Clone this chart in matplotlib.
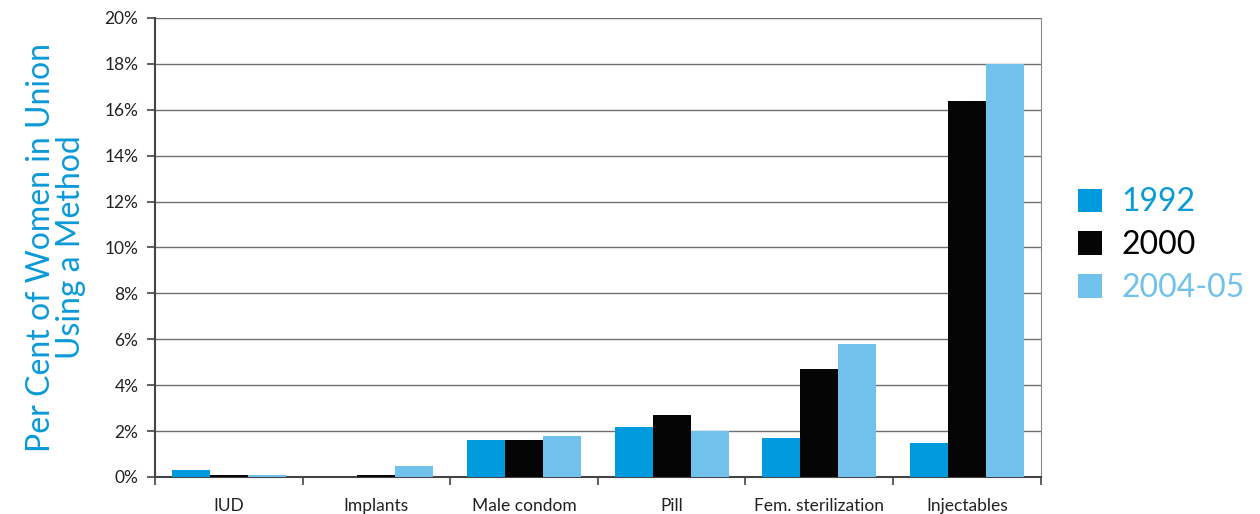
import numpy as np
import matplotlib.pyplot as plt
from matplotlib.patches import Patch

plt.rcParams['font.family'] = ['Lato', 'DejaVu Sans']

methods = ["IUD", "Implants", "Male condom", "Pill", "Fem. sterilization", "Injectables"]
years = ["1992", "2000", "2004-05"]
y1992 = [0.3, 0.0, 1.6, 2.2, 1.7, 1.5]
y2000 = [0.1, 0.1, 1.6, 2.7, 4.7, 16.4]
y2004 = [0.1, 0.5, 1.8, 2.0, 5.8, 18.0]

colors = ["#009bdf", "#050505", "#70c1eb"]
label_blue = "#0a9ad8"

fig = plt.figure(figsize=(12.6, 5.14), dpi=100)
ax = fig.add_axes([0.123, 0.072, 0.703, 0.893])

x = np.arange(len(methods))
w = 0.257
for i, (vals, c) in enumerate(zip([y1992, y2000, y2004], colors)):
    ax.bar(x + (i - 1) * w, vals, width=w, color=c, zorder=3)

ax.set_xlim(-0.5, len(methods) - 0.5)
ax.set_ylim(0, 20)
ax.set_yticks(np.arange(0, 21, 2))
ax.set_yticklabels([f"{v}%" for v in range(0, 21, 2)])
ax.yaxis.grid(True, color="#6e6e6e", lw=1.0, zorder=0)

# category labels centred, ticks between groups
ax.set_xticks(x)
ax.set_xticklabels(methods)
ax.tick_params(axis="x", length=0, pad=15, labelsize=12.5, colors="#222222")
ax.set_xticks(np.arange(-0.5, len(methods)), minor=True)
ax.tick_params(axis="x", which="minor", length=6, width=1.2, color="#444444")
ax.tick_params(axis="y", length=6, width=1.2, color="#444444", labelsize=12.5,
               labelcolor="#222222", pad=6)

for s in ["left", "bottom"]:
    ax.spines[s].set_color("#444444")
    ax.spines[s].set_linewidth(1.5)
ax.spines["right"].set_color("#8a8a8a")
ax.spines["top"].set_visible(False)

ax.set_ylabel("Per Cent of Women in Union\nUsing a Method", color=label_blue,
              fontsize=23, linespacing=1.0, labelpad=13)

handles = [Patch(facecolor=c, edgecolor="none") for c in colors]
leg = ax.legend(handles, years, loc="center left", bbox_to_anchor=(1.01, 0.505),
                frameon=False, fontsize=23, handlelength=0.75, handleheight=0.75,
                handletextpad=0.6, labelspacing=0.4)
for t, c in zip(leg.get_texts(), [label_blue, "#000000", colors[2]]):
    t.set_color(c)

fig.savefig("out.png", dpi=100)
